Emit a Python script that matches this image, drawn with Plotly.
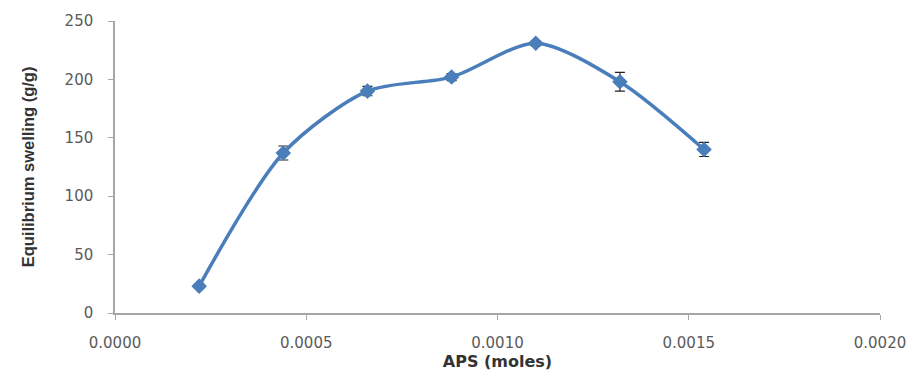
import plotly.graph_objects as go

# APS amount (moles) and equilibrium swelling (g/g) with error
aps_moles = [0.00022, 0.00044, 0.00066, 0.00088, 0.00110, 0.00132, 0.00154]
swelling = [23, 137, 190, 202, 231, 198, 140]
swelling_err = [2, 6, 4, 3, 2, 8, 6]

x_ticks = [0.0, 0.0005, 0.0010, 0.0015, 0.0020]
x_tick_text = ["0.0000", "0.0005", "0.0010", "0.0015", "0.0020"]
y_ticks = [0, 50, 100, 150, 200, 250]

blue = "#4A7EBB"
axis_grey = "#A6A6A6"
tick_font = dict(family="DejaVu Sans", size=15, color="#5A5A5A")

fig = go.Figure(
    go.Scatter(
        x=aps_moles,
        y=swelling,
        mode="lines+markers",
        line=dict(color=blue, width=3.5, shape="spline", smoothing=0.8),
        marker=dict(symbol="diamond", size=12, color=blue),
        error_y=dict(type="data", array=swelling_err, color="#222222",
                     thickness=1.2, width=5),
        showlegend=False,
    )
)

fig.update_layout(
    width=923,
    height=381,
    margin=dict(l=115, r=43, t=15, b=68),
    plot_bgcolor="white",
    paper_bgcolor="white",
    xaxis=dict(
        range=[0, 0.002],
        tickvals=x_ticks,
        ticktext=x_tick_text,
        showgrid=False,
        zeroline=False,
        showline=True,
        linecolor=axis_grey,
        linewidth=1.5,
        ticks="outside",
        tickcolor=axis_grey,
        ticklen=5,
        ticklabelstandoff=10,
        tickfont=tick_font,
        title=dict(text="<b>APS (moles)</b>",
                   font=dict(family="DejaVu Sans", size=16, color="#333333"),
                   standoff=4),
    ),
    yaxis=dict(
        range=[0, 250],
        tickvals=y_ticks,
        showgrid=False,
        zeroline=False,
        showline=True,
        linecolor=axis_grey,
        linewidth=1.5,
        ticks="outside",
        tickcolor=axis_grey,
        ticklen=5,
        ticklabelstandoff=12,
        tickfont=tick_font,
        title=dict(text="<b>Equilibrium swelling (g/g)</b>",
                   font=dict(family="Liberation Sans", size=16.5, color="#333333"),
                   standoff=26),
    ),
)

fig.write_html("out.html")
